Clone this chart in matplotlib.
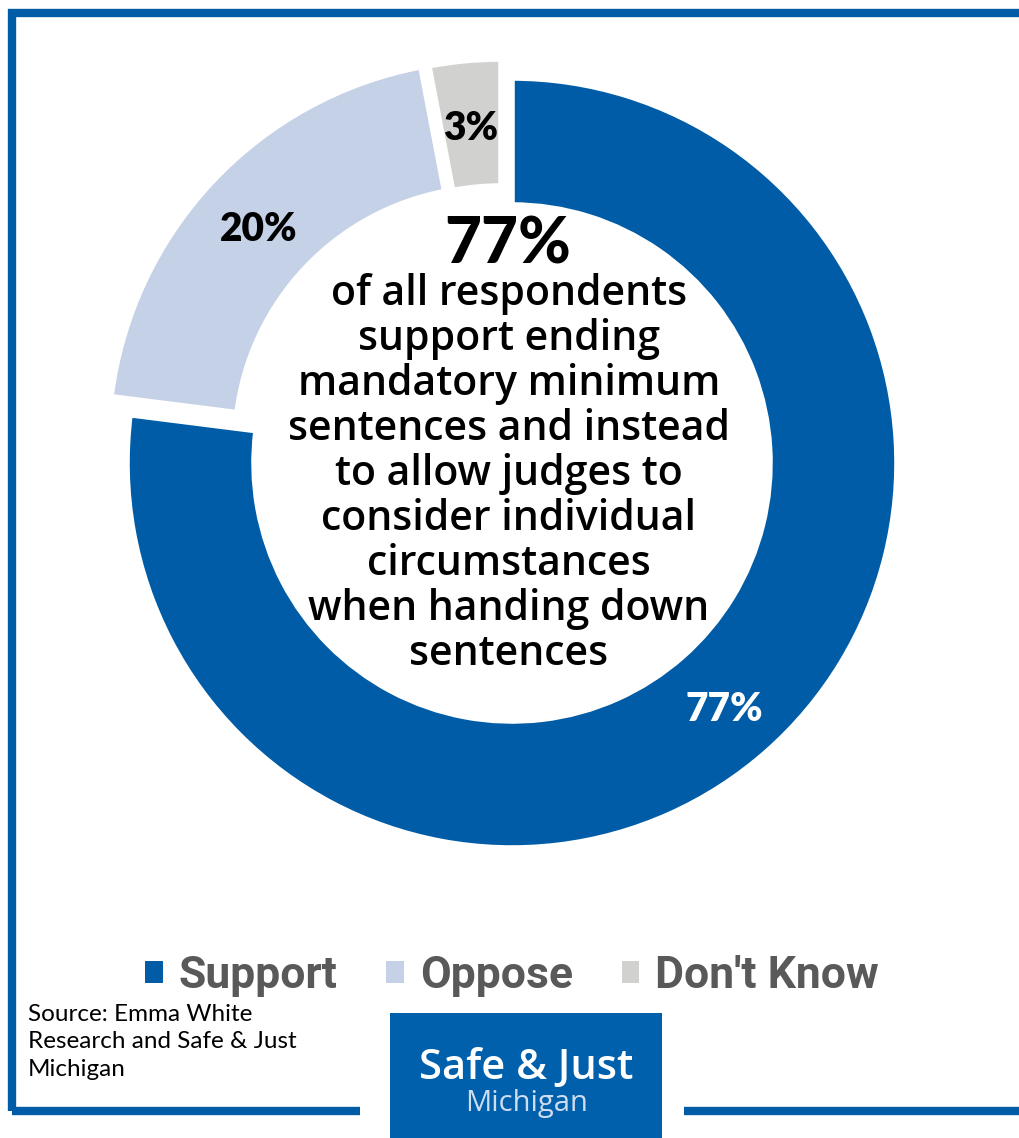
import matplotlib.pyplot as plt
from matplotlib.patches import Rectangle

labels = ['Support', 'Oppose', "Don't Know"]
shares = [77, 20, 3]
colors = ['#005CA6', '#C4D1E6', '#D1D1CF']
label_colors = ['white', 'black', 'black']

headline = '77%'
blurb = ('of all respondents\nsupport ending\nmandatory minimum\nsentences and instead\n'
         'to allow judges to\nconsider individual\ncircumstances\nwhen handing down\nsentences')
source = 'Source: Emma White\nResearch and Safe & Just\nMichigan'

W, H = 1020, 1138
BLUE = '#005CA6'

fig = plt.figure(figsize=(W / 100, H / 100), dpi=100)
ax = fig.add_axes([0, 0, 1, 1])

# donut centre and size in pixel units (y measured from the bottom)
cx, cy, r, ring = 512, H - 463, 385, 127
# pulled-out slices are nudged by a fixed pixel offset
nudge = [(0, 0), (-19, 18), (-11, 19)]

wedges, _, pcts = ax.pie(
    shares, colors=colors, startangle=90, counterclock=False,
    center=(cx, cy), radius=r,
    wedgeprops=dict(width=ring, linewidth=4, edgecolor='white'),
    autopct='%d%%', pctdistance=1 - ring / 2 / r, frame=True)
for w, t, c, (dx, dy) in zip(wedges, pcts, label_colors, nudge):
    w.set_center((cx + dx, cy + dy))
    x, y = t.get_position()
    t.set_position((x + dx, y + dy - 5))
    t.set_color(c)
    t.set_fontsize(28)
    t.set_fontweight('heavy')
    t.set_family('Lato')

ax.set_xlim(0, W)
ax.set_ylim(0, H)
ax.set_aspect('equal')
ax.axis('off')

# centre text
ax.text(508, H - 245, headline, ha='center', va='center', fontsize=46,
        fontweight='black', family='Lato', color='black')
ax.text(509, H - 474, blurb, ha='center', va='center', fontsize=29.5,
        fontweight='semibold', family='Open Sans', color='black', linespacing=1.09)

# frame around the graphic
ax.plot([12, 12, W], [H - 1111, H - 13, H - 13], color=BLUE, lw=6,
        solid_capstyle='butt', solid_joinstyle='miter')
ax.plot([12, 360], [H - 1111, H - 1111], color=BLUE, lw=6, solid_capstyle='butt')
ax.plot([684, W], [H - 1111, H - 1111], color=BLUE, lw=6, solid_capstyle='butt')

# legend
ax.legend(wedges, labels, ncol=3, loc='center', bbox_to_anchor=(512 / W, 1 - 976 / H),
          frameon=False, handlelength=0.4, handleheight=0.4, handletextpad=0.35,
          columnspacing=1.1, prop=dict(family='Roboto', weight='bold', size=32),
          labelcolor='#595959')
for h in ax.get_legend().legend_handles:
    h.set_linewidth(0)

# source note
ax.text(28, H - 1004, source, ha='left', va='top', fontsize=17.5, family='Lato',
        color='black', linespacing=1.38)

# logo block
ax.add_patch(Rectangle((390, 0), 272, H - 1013, facecolor='#0060AC', edgecolor='none'))
ax.text(526, H - 1068, 'Safe & Just', ha='center', va='center', fontsize=30,
        fontweight='semibold', family='Open Sans', color='white')
ax.text(527, H - 1104, 'Michigan', ha='center', va='center', fontsize=21,
        family='Open Sans', color='#CFDDF0')

fig.savefig('out.png', dpi=100)
